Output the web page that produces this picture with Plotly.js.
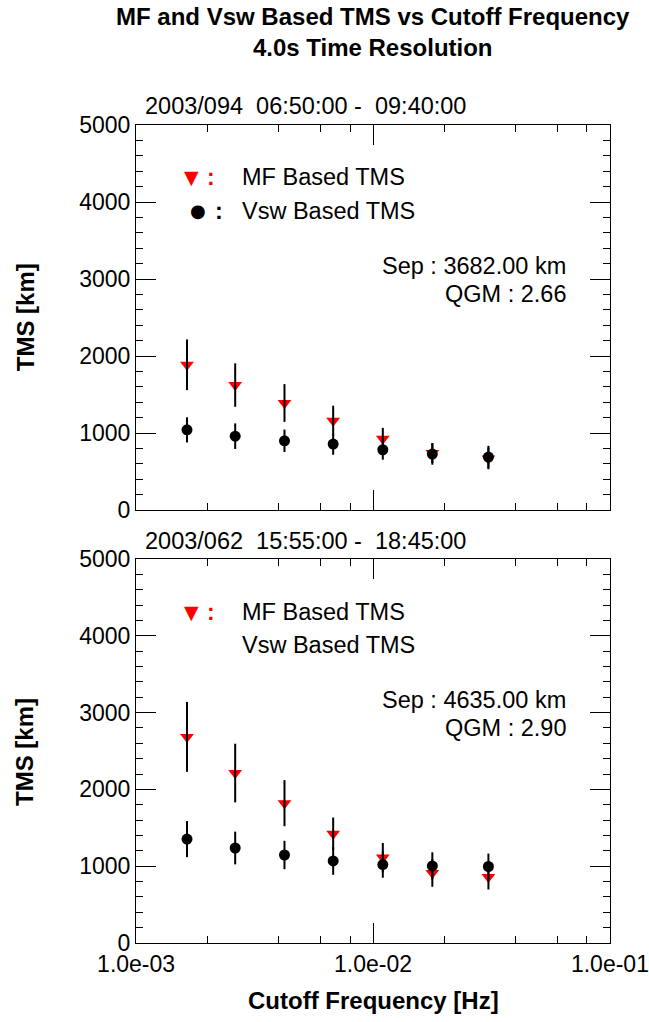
<!DOCTYPE html>
<html>
<head>
<meta charset="utf-8">
<script src="https://cdn.plot.ly/plotly-3.0.1.min.js"></script>
<style>html,body{margin:0;padding:0;background:#fff;}#chart{width:649px;height:1022px;}</style>
</head>
<body>
<div id="chart"></div>
<script>
// ---- data ----
const freq = [1.64e-3, 2.62e-3, 4.23e-3, 6.79e-3, 1.10e-2, 1.78e-2, 3.07e-2];

// panel 1: 2003/094 06:50:00 - 09:40:00
const mfTop = [1886, 1623, 1390, 1161, 925, 740, 670];
const mfTopErr = [329, 282, 245, 194, 142, 130, 140];
const vswTop = [1041, 959, 899, 856, 783, 727, 688];
const vswTopErr = [163, 166, 146, 138, 129, 138, 146];

// panel 2: 2003/062 15:55:00 - 18:45:00
const mfBot = [2684, 2213, 1821, 1423, 1112, 913, 861];
const mfBotErr = [455, 382, 300, 211, 190, 181, 164];
const vswBot = [1353, 1237, 1146, 1069, 1022, 1004, 996];
const vswBotErr = [235, 213, 185, 181, 172, 177, 168];

const xTickVals = [0.001, 0.01, 0.1];
const xTickText = ['1.0e-03', '1.0e-02', '1.0e-01'];
const xMinorVals = [0.002, 0.004, 0.006, 0.008, 0.02, 0.04, 0.06, 0.08];
const yTickVals = [0, 1000, 2000, 3000, 4000, 5000];

const panelTitles = ['2003/094  06:50:00 -  09:40:00', '2003/062  15:55:00 -  18:45:00'];
const sepTexts = ['Sep : 3682.00 km', 'Sep : 4635.00 km'];
const qgmTexts = ['QGM : 2.66', 'QGM : 2.90'];

// ---- styling ----
const FONT = 'Liberation Sans, Arial, Helvetica, sans-serif';
const RED = '#ff0000';

function mfMarkers(y, xa, ya) {
  return {x: freq, y: y, xaxis: xa, yaxis: ya, type: 'scatter', mode: 'markers',
    marker: {symbol: 'triangle-down', size: 12, color: RED}, hoverinfo: 'skip', showlegend: false};
}
function errOnly(y, e, xa, ya) {
  return {x: freq, y: y, xaxis: xa, yaxis: ya, type: 'scatter', mode: 'markers',
    marker: {size: 1, color: 'rgba(0,0,0,0)'},
    error_y: {type: 'data', array: e, visible: true, color: '#000', thickness: 2, width: 0},
    hoverinfo: 'skip', showlegend: false};
}
function vswMarkers(y, e, xa, ya) {
  return {x: freq, y: y, xaxis: xa, yaxis: ya, type: 'scatter', mode: 'markers',
    marker: {symbol: 'circle', size: 11, color: '#000'},
    error_y: {type: 'data', array: e, visible: true, color: '#000', thickness: 2, width: 0},
    hoverinfo: 'skip', showlegend: false};
}

const data = [
  mfMarkers(mfTop, 'x', 'y'), errOnly(mfTop, mfTopErr, 'x', 'y'), vswMarkers(vswTop, vswTopErr, 'x', 'y'),
  mfMarkers(mfBot, 'x2', 'y2'), errOnly(mfBot, mfBotErr, 'x2', 'y2'), vswMarkers(vswBot, vswBotErr, 'x2', 'y2')
];

function xAxis(anchor, labels) {
  return {type: 'log', range: [-3.0004, -0.9996], anchor: anchor, domain: [0, 1],
    tickmode: 'array', tickvals: xTickVals, ticktext: xTickText, showticklabels: labels,
    ticks: 'inside', ticklen: 20, tickwidth: 1, tickcolor: '#000',
    minor: {tickmode: 'array', tickvals: xMinorVals, ticks: 'inside', ticklen: 7, tickwidth: 1, tickcolor: '#000'},
    showline: true, linecolor: '#000', linewidth: 1, mirror: 'allticks',
    showgrid: false, zeroline: false,
    tickfont: {family: FONT, size: 23, color: '#000'}};
}
function yAxis(anchor, domain) {
  return {range: [0, 5000], anchor: anchor, domain: domain,
    tickmode: 'array', tickvals: yTickVals,
    ticks: 'inside', ticklen: 20, tickwidth: 1, tickcolor: '#000',
    minor: {dtick: 200, ticks: 'inside', ticklen: 7, tickwidth: 1, tickcolor: '#000'},
    showline: true, linecolor: '#000', linewidth: 1, mirror: 'allticks',
    showgrid: false, zeroline: false,
    tickfont: {family: FONT, size: 23, color: '#000'}};
}

function ann(text, x, y, opts) {
  return Object.assign({text: text, x: x, y: y, xref: 'paper', yref: 'paper', showarrow: false,
    xanchor: 'left', yanchor: 'middle', font: {family: FONT, size: 23.5, color: '#000'}}, opts || {});
}

const boldFont = {family: FONT, size: 24, color: '#000'};

const annotations = [
  ann('<b>MF and Vsw Based TMS vs Cutoff Frequency</b><br><b>4.0s Time Resolution</b>', 0.5, 1.1137,
      {xanchor: 'center', font: boldFont}),
  ann('<b>Cutoff Frequency [Hz]</b>', 0.5, -0.0697, {xanchor: 'center', font: boldFont}),
  ann('<b>TMS [km]</b>', -0.2342, 0.765, {xanchor: 'center', textangle: -90, font: boldFont}),
  ann('<b>TMS [km]</b>', -0.2342, 0.2335, {xanchor: 'center', textangle: -90, font: boldFont}),
  ann(panelTitles[0], 0.0148, 1.0232),
  ann(panelTitles[1], 0.0148, 0.4914),
  // legend, top panel
  ann('▼', 0.1181, 0.9364, {xanchor: 'center', font: {family: 'DejaVu Sans', size: 19, color: RED}}),
  ann('<b>:</b>', 0.1582, 0.9364, {xanchor: 'center', font: {family: FONT, size: 23, color: RED}}),
  ann('MF Based TMS', 0.2194, 0.9364),
  ann('●', 0.1308, 0.8949, {xanchor: 'center', font: {family: 'DejaVu Sans', size: 18, color: '#000'}}),
  ann('<b>:</b>', 0.1751, 0.8949, {xanchor: 'center'}),
  ann('Vsw Based TMS', 0.2194, 0.8949),
  ann(sepTexts[0], 0.9114, 0.8276, {xanchor: 'right'}),
  ann(qgmTexts[0], 0.9114, 0.7934, {xanchor: 'right'}),
  // legend, bottom panel
  ann('▼', 0.1181, 0.4046, {xanchor: 'center', font: {family: 'DejaVu Sans', size: 19, color: RED}}),
  ann('<b>:</b>', 0.1582, 0.4046, {xanchor: 'center', font: {family: FONT, size: 23, color: RED}}),
  ann('MF Based TMS', 0.2194, 0.4046),
  ann('Vsw Based TMS', 0.2194, 0.3643),
  ann(sepTexts[1], 0.9114, 0.2971, {xanchor: 'right'}),
  ann(qgmTexts[1], 0.9114, 0.2628, {xanchor: 'right'})
];

const layout = {
  width: 649, height: 1022,
  margin: {l: 136, r: 39, t: 125, b: 79},
  paper_bgcolor: '#fff', plot_bgcolor: '#fff',
  showlegend: false,
  font: {family: FONT, size: 23, color: '#000'},
  xaxis: xAxis('y', false),
  yaxis: yAxis('x', [0.5293, 1]),
  xaxis2: xAxis('y2', true),
  yaxis2: yAxis('x2', [0, 0.4694]),
  annotations: annotations
};

Plotly.newPlot('chart', data, layout, {displayModeBar: false, staticPlot: true});
</script>
</body>
</html>
